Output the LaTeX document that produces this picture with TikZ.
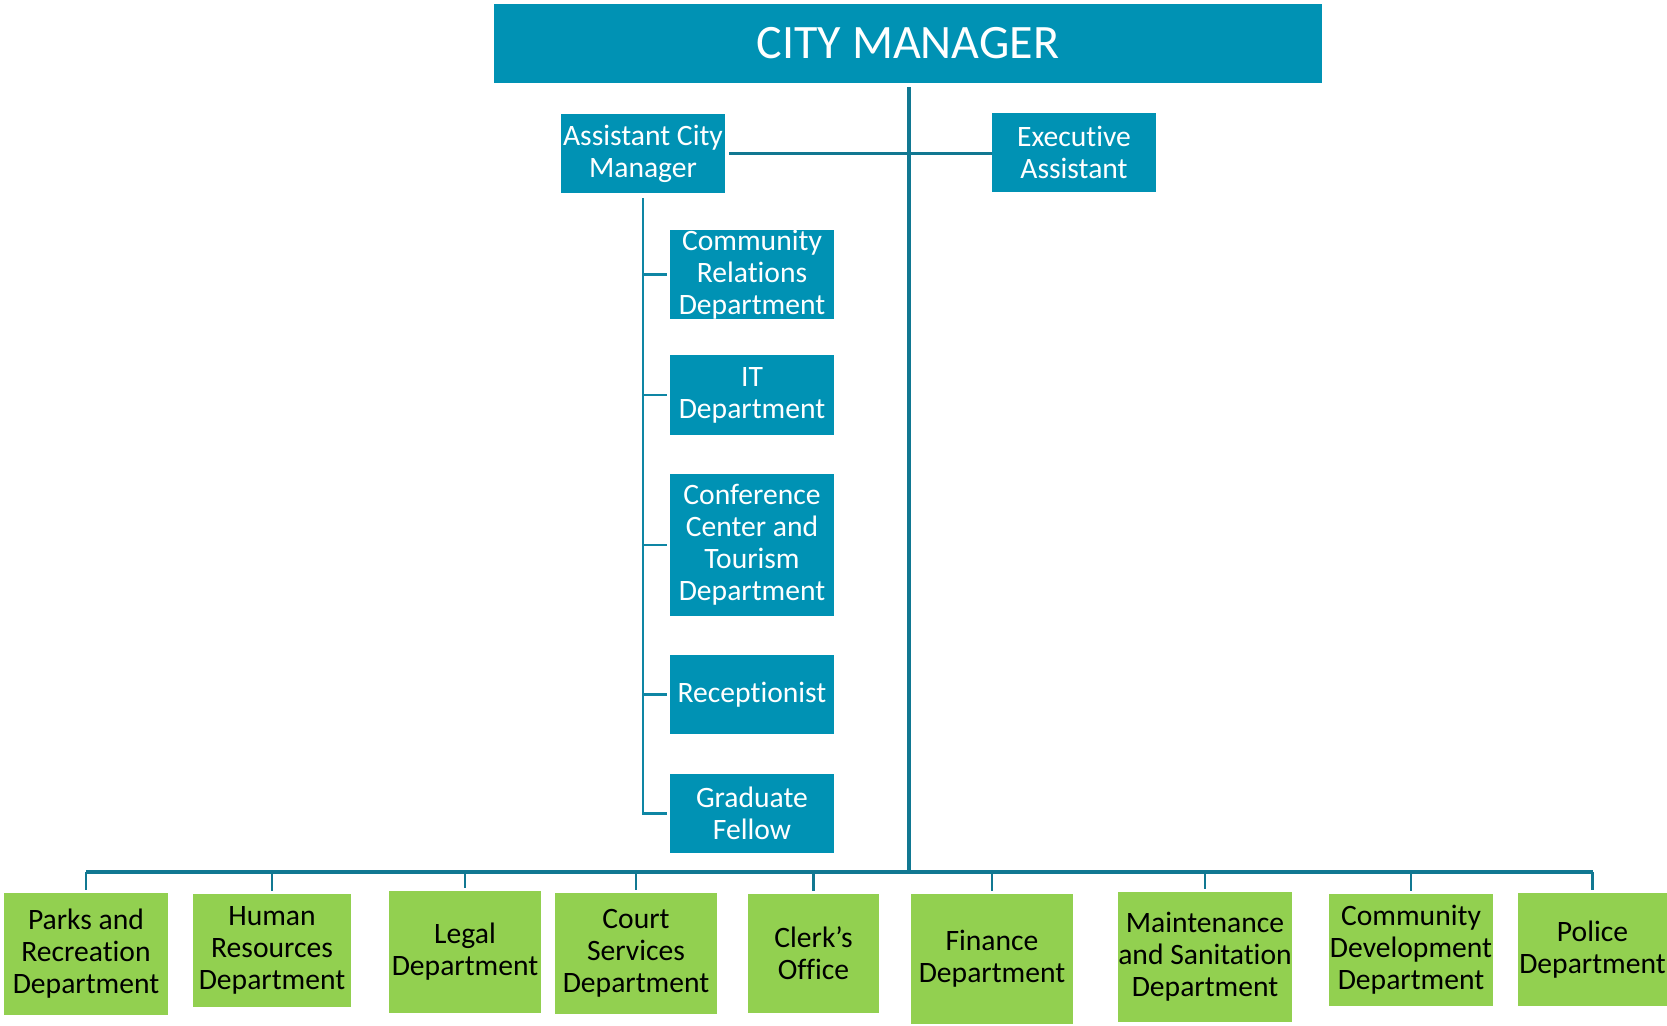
\documentclass[tikz,border=0pt]{standalone}
\usepackage{fontspec}
\setmainfont{Carlito}[RawFeature={-liga;-clig;-calt;-dlig}]
\definecolor{tealbox}{RGB}{0,146,180}
\definecolor{greenbox}{RGB}{146,208,80}
\definecolor{linedark}{RGB}{17,120,146}
\definecolor{linelight}{RGB}{14,134,164}
\tikzset{
  bx/.style 2 args={minimum width=#1*0.75pt, minimum height=#2*0.75pt},
  tbox/.style={fill=tealbox, text=white, inner sep=0pt, align=center,
     font={\fontsize{22.2}{24}\selectfont}},
  gbox/.style={fill=greenbox, text=black, inner sep=0pt, align=center,
     font={\fontsize{22.2}{24}\selectfont}},
  mainline/.style={draw=linedark, line width=2.6pt},
  subline/.style={draw=linelight, line width=2.2pt},
  tick/.style={draw=linedark, line width=1.8pt},
  bus/.style={draw=linedark, line width=2.4pt}
}
\begin{document}
\begin{tikzpicture}[x=0.75pt,y=-0.75pt]
\useasboundingbox (0,0) rectangle (1667,1025);
% top
\node[tbox, bx={828}{79}, font={\fontsize{36}{40}\selectfont}] (cm) at (908,43.5) {CITY MANAGER};
\node[tbox, bx={164}{79}] (acm) at (643,153.5) {Assistant City\\Manager};
\node[tbox, bx={164}{79}] (ea) at (1074,152.5) {Executive\\Assistant};
% ACM subordinates
\node[tbox, bx={164}{83}] (cr) at (752,274.5) {Community\\Relations\\Department};
\node[tbox, bx={164}{80}] (it) at (752,395) {IT\\Department};
\node[tbox, bx={164}{142}] (conf) at (752,545) {Conference\\Center and\\Tourism\\Department};
\node[tbox, bx={164}{79}] (rec) at (752,694.5) {Receptionist};
\node[tbox, bx={164}{79}] (gf) at (752,813.5) {Graduate\\Fellow};
% bottom departments
\node[gbox, bx={164}{122}] (d1) at (86,954) {Parks and\\Recreation\\Department};
\node[gbox, bx={158}{113}] (d2) at (272,950.5) {Human\\Resources\\Department};
\node[gbox, bx={152}{122}] (d3) at (465,952) {Legal\\Department};
\node[gbox, bx={162}{121}] (d4) at (636,953.5) {Court\\Services\\Department};
\node[gbox, bx={131}{119}] (d5) at (813.5,953) {Clerk’s\\Office};
\node[gbox, bx={162}{130}] (d6) at (992,959) {Finance\\Department};
\node[gbox, bx={174}{130}] (d7) at (1205,957) {Maintenance\\and Sanitation\\Department};
\node[gbox, bx={164}{112}] (d8) at (1411,950) {Community\\Development\\Department};
\node[gbox, bx={149}{113}] (d9) at (1592.5,949.5) {Police\\Department};
% coordinates
\coordinate (top) at (909,87);
\coordinate (hub) at (909,872);
\coordinate (acmtop) at (643,198);
% connectors
\draw[mainline] (top) -- (hub);
\draw[mainline] ([xshift=3pt]acm.east) -- (acm.east -| ea.west);
\draw[subline] (acmtop) -- (acmtop |- gf.west) -- ([xshift=-2pt]gf.west);
\foreach \n in {cr,it,conf,rec}{
  \draw[subline] (acmtop |- \n.west) -- ([xshift=-2pt]\n.west);
}
\draw[bus] (d1.north |- hub) -- (d9.north |- hub);
\foreach \n in {d1,d2,d3,d4,d5,d6,d7,d8,d9}{
  \draw[tick] (\n.north |- hub) -- ([yshift=2pt]\n.north);
}
\end{tikzpicture}
\end{document}
